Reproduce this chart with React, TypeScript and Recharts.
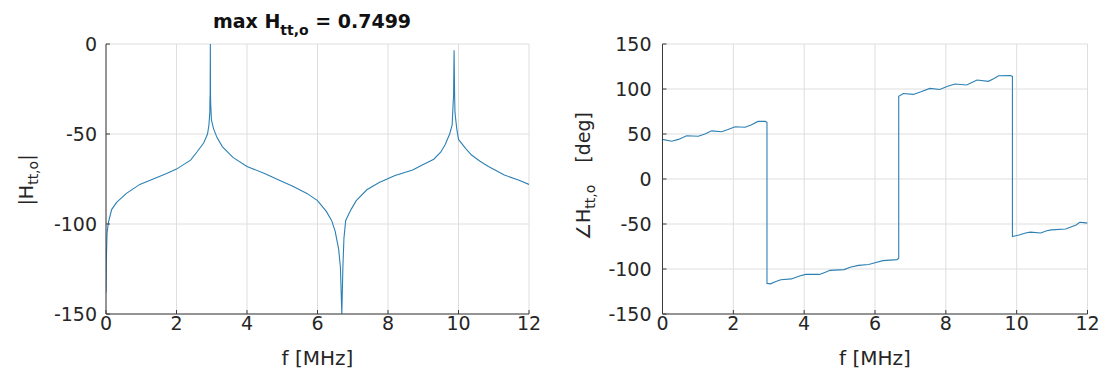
import React from 'react';
import { LineChart, Line, XAxis, YAxis, CartesianGrid } from 'recharts';

// ---- data ----
const magFreq = [0, 0.01, 0.03, 0.07, 0.16, 0.3, 0.58, 0.96, 1.34, 1.72, 2.0, 2.4, 2.58, 2.77, 2.88, 2.92, 2.945, 2.95, 2.955, 2.96, 2.965, 2.97, 2.99, 3.05, 3.15, 3.3, 3.6, 4.0, 4.5, 4.9, 5.3, 5.7, 6.0, 6.25, 6.4, 6.5, 6.6, 6.65, 6.69, 6.72, 6.75, 6.8, 6.95, 7.1, 7.4, 7.75, 8.2, 8.7, 9.0, 9.3, 9.5, 9.62, 9.75, 9.82, 9.85, 9.86, 9.875, 9.89, 9.9, 9.95, 10.0, 10.2, 10.37, 10.6, 10.85, 11.3, 11.7, 12];
const magDb = [-138, -120, -105, -99, -92, -88, -83, -78, -75, -72, -69.5, -64.5, -60, -55, -50, -45, -38, -30, -28, 0, -28, -33, -42, -47, -52, -57, -63, -68, -72, -75.5, -79, -83, -87, -93, -98, -104, -114, -124, -150, -124, -108, -98, -92, -87, -81, -77, -73, -70, -67, -64, -60, -56, -50, -45, -32, -29, -3.5, -29, -38, -47, -53, -58, -61.7, -65, -68, -72.8, -75.5, -78];

const phaseFreq = [0, 0.26, 0.45, 0.68, 1.01, 1.2, 1.39, 1.67, 1.85, 2.05, 2.33, 2.5, 2.7, 2.9, 2.95, 2.95, 3.05, 3.2, 3.34, 3.64, 3.85, 4.04, 4.43, 4.6, 4.73, 5.13, 5.3, 5.53, 5.82, 6.0, 6.22, 6.62, 6.67, 6.67, 6.8, 7.08, 7.3, 7.55, 7.83, 8.05, 8.26, 8.59, 8.75, 8.88, 9.2, 9.35, 9.49, 9.82, 9.88, 9.88, 10.09, 10.25, 10.39, 10.68, 10.85, 10.98, 11.38, 11.55, 11.68, 11.78, 11.9, 12];
const phaseDeg = [44, 42, 44, 48, 47.5, 50, 53.5, 52.5, 55, 58, 57.5, 60, 64, 64, 63, -116, -116.5, -114, -112, -111, -108, -106, -106, -103.5, -101.5, -100.7, -98, -96, -95, -93, -90.7, -89.6, -88, 92, 95, 94, 97, 100.7, 99.5, 103, 105.5, 104.5, 107.5, 110, 108.5, 111.5, 114.8, 115, 114, -64, -62, -60, -59, -60, -57.5, -56.5, -55.5, -53, -51, -48, -48.5, -49];

const freqTicks = [0, 2, 4, 6, 8, 10, 12];
const magTicks = [-150, -100, -50, 0];
const phaseTicks = [-150, -100, -50, 0, 50, 100, 150];

const titleValue = '0.7499';
const xLabel = 'f [MHz]';

const magData = magFreq.map((f, i) => ({ f, v: magDb[i] }));
const phaseData = phaseFreq.map((f, i) => ({ f, v: phaseDeg[i] }));

// ---- styles ----
const FONT = '"DejaVu Sans", "Liberation Sans", Arial, sans-serif';
const LINE = '#2c80b4';
const AXIS = '#3a3a3a';
const GRID = '#dedede';
const TXT = '#262626';
const tickStyle = { fill: TXT, fontSize: 19, fontFamily: FONT };

const H = 373;

function MagChart() {
  const W = 560;
  return (
    <LineChart width={W} height={H} data={magData} margin={{ top: 44, right: 31, left: 46, bottom: 29 }}>
      <CartesianGrid stroke={GRID} strokeWidth={1} />
      <XAxis
        dataKey="f"
        type="number"
        domain={[0, 12]}
        ticks={freqTicks}
        allowDataOverflow
        height={30}
        stroke={AXIS}
        tickSize={-4}
        tickMargin={7}
        tick={tickStyle}
        interval={0}
        label={{
          content: () => (
            <text x={317.5} y={365} textAnchor="middle" fontFamily={FONT} fontSize={20} fill={TXT}>
              {xLabel}
            </text>
          ),
        }}
      />
      <XAxis
        xAxisId="top"
        orientation="top"
        dataKey="f"
        type="number"
        domain={[0, 12]}
        ticks={freqTicks}
        allowDataOverflow
        height={0}
        stroke={AXIS}
        tickSize={-4}
        tickFormatter={() => ''}
        interval={0}
      />
      <YAxis
        type="number"
        domain={[-150, 0]}
        ticks={magTicks}
        allowDataOverflow
        width={60}
        stroke={AXIS}
        tickSize={-4}
        tickMargin={13}
        tick={tickStyle}
        interval={0}
        label={{
          content: () => (
            <text
              x={33}
              y={180}
              transform="rotate(-90 33 180)"
              textAnchor="middle"
              fontFamily={FONT}
              fontSize={19}
              fill={TXT}
            >
              <tspan>|H</tspan>
              <tspan fontSize={14} dy={5}>tt,o</tspan>
              <tspan dy={-5}>|</tspan>
            </text>
          ),
        }}
      />
      <YAxis
        yAxisId="right"
        orientation="right"
        type="number"
        domain={[-150, 0]}
        ticks={magTicks}
        allowDataOverflow
        width={0}
        stroke={AXIS}
        tickSize={-4}
        tickFormatter={() => ''}
        interval={0}
      />
      <Line
        type="linear"
        dataKey="v"
        stroke={LINE}
        strokeWidth={1.1}
        dot={false}
        isAnimationActive={false}
      />
    </LineChart>
  );
}

function PhaseChart() {
  const W = 549;
  return (
    <LineChart width={W} height={H} data={phaseData} margin={{ top: 44, right: 21.5, left: 42.5, bottom: 29 }}>
      <CartesianGrid stroke={GRID} strokeWidth={1} />
      <XAxis
        dataKey="f"
        type="number"
        domain={[0, 12]}
        ticks={freqTicks}
        allowDataOverflow
        height={30}
        stroke={AXIS}
        tickSize={-4}
        tickMargin={7}
        tick={tickStyle}
        interval={0}
        label={{
          content: () => (
            <text x={315} y={365} textAnchor="middle" fontFamily={FONT} fontSize={20} fill={TXT}>
              {xLabel}
            </text>
          ),
        }}
      />
      <XAxis
        xAxisId="top"
        orientation="top"
        dataKey="f"
        type="number"
        domain={[0, 12]}
        ticks={freqTicks}
        allowDataOverflow
        height={0}
        stroke={AXIS}
        tickSize={-4}
        tickFormatter={() => ''}
        interval={0}
      />
      <YAxis
        type="number"
        domain={[-150, 150]}
        ticks={phaseTicks}
        allowDataOverflow
        width={60}
        stroke={AXIS}
        tickSize={-4}
        tickMargin={15}
        tick={tickStyle}
        interval={0}
        label={{
          content: () => (
            <text
              x={30}
              y={176}
              transform="rotate(-90 30 176)"
              textAnchor="middle"
              fontFamily={FONT}
              fontSize={19}
              fill={TXT}
            >
              <tspan>∠H</tspan>
              <tspan fontSize={14} dy={5}>tt,o</tspan>
              <tspan dy={-5} dx={22}>[deg]</tspan>
            </text>
          ),
        }}
      />
      <YAxis
        yAxisId="right"
        orientation="right"
        type="number"
        domain={[-150, 150]}
        ticks={phaseTicks}
        allowDataOverflow
        width={0}
        stroke={AXIS}
        tickSize={-4}
        tickFormatter={() => ''}
        interval={0}
      />
      <Line
        type="linear"
        dataKey="v"
        stroke={LINE}
        strokeWidth={1.1}
        dot={false}
        isAnimationActive={false}
      />
    </LineChart>
  );
}

export default function App() {
  return (
    <div style={{ position: 'absolute', left: 0, top: 0, width: 1109, height: H, background: '#fff', overflow: 'hidden' }}>
      <div style={{ position: 'absolute', left: 0, top: 0 }}>
        <MagChart />
      </div>
      <div style={{ position: 'absolute', left: 560, top: 0 }}>
        <PhaseChart />
      </div>
      <svg style={{ position: 'absolute', left: 0, top: 0 }} width={560} height={44}>
        <text x={312} y={28} textAnchor="middle" fontFamily={FONT} fontSize={19} fontWeight="bold" fill="#111">
          <tspan>max H</tspan>
          <tspan fontSize={14} dy={7}>tt,o</tspan>
          <tspan dy={-7}>{' = ' + titleValue}</tspan>
        </text>
      </svg>
    </div>
  );
}
